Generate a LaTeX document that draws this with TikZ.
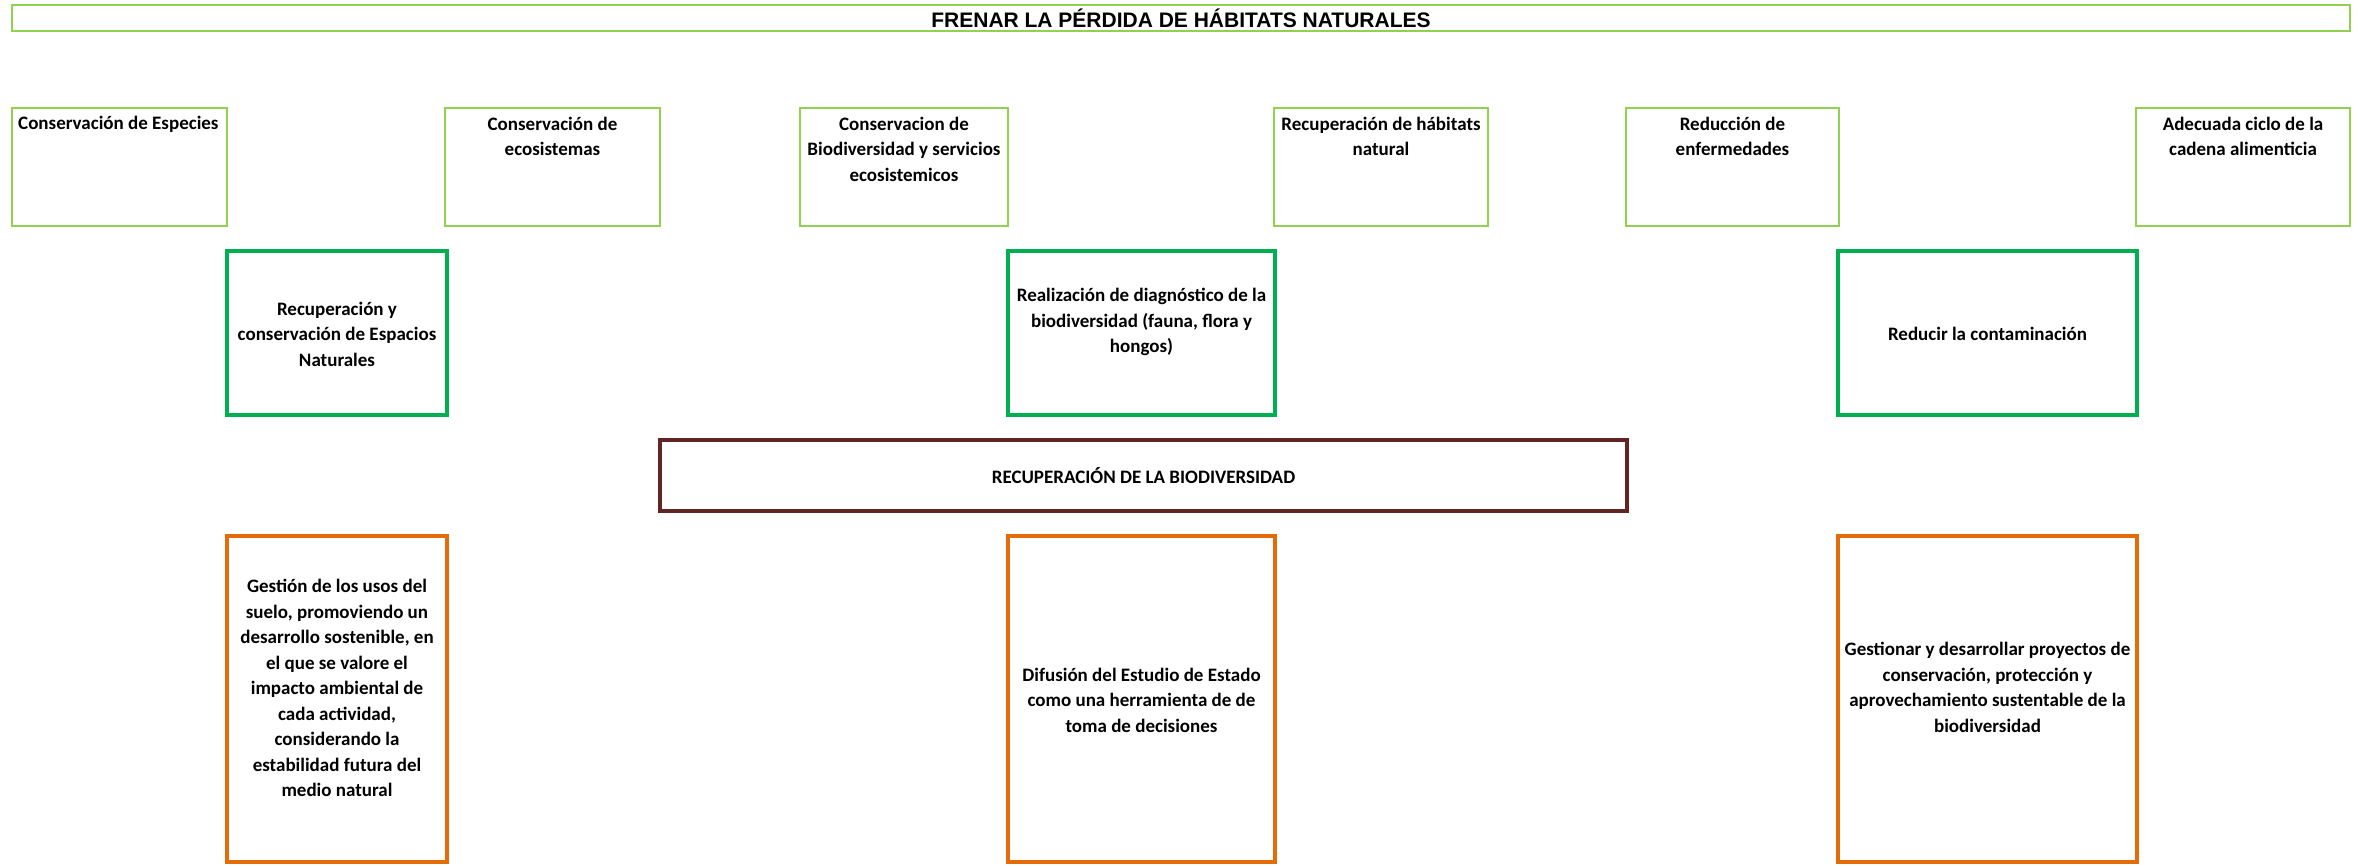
\documentclass[tikz,border=0pt]{standalone}
\usepackage{fontspec}
\setmainfont{Carlito}
\newfontfamily\titlefont{Liberation Sans}
\usetikzlibrary{fit}
\definecolor{lgreen}{HTML}{92D050}
\definecolor{dgreen}{HTML}{00B050}
\definecolor{brownred}{HTML}{632523}
\definecolor{orng}{HTML}{E36C09}
\tikzset{
  frame/.style={draw, inner sep=0pt, fill=none},
  topbox/.style={frame, draw=lgreen, line width=2.5pt},
  greenbox/.style={frame, draw=dgreen, line width=4pt},
  brownbox/.style={frame, draw=brownred, line width=4.5pt},
  orangebox/.style={frame, draw=orng, line width=4.5pt},
  txt/.style={inner sep=0pt, align=center, font=\fontsize{19}{25.5}\selectfont\bfseries},
  titletxt/.style={inner sep=0pt, font=\titlefont\fontsize{21}{25}\selectfont\bfseries}
}
\begin{document}
\begin{tikzpicture}[x=1pt, y=-1pt]
\useasboundingbox[fill=white] (0,0) rectangle (2360,865);
% title
\node[topbox, fit={(12,5) (2350,31)}] (title) {};
\node[titletxt] (titlet) at (title.center) {FRENAR LA PÉRDIDA DE HÁBITATS NATURALES};
% top row
\node[topbox, fit={(12,108) (227,226)}] (t1) {};
\node[topbox, fit={(445,108) (660,226)}] (t2) {};
\node[topbox, fit={(800,108) (1008,226)}] (t3) {};
\node[topbox, fit={(1274,108) (1488,226)}] (t4) {};
\node[topbox, fit={(1626,108) (1839,226)}] (t5) {};
\node[topbox, fit={(2136,108) (2350,226)}] (t6) {};
\node[txt, anchor=west, align=left] (t1t) at (18,124) {Conservación de Especies};
\node[txt] (t2t) at (552.5,136.5) {Conservación de\\ecosistemas};
\node[txt] (t3t) at (904,149) {Conservacion de\\Biodiversidad y servicios\\ecosistemicos};
\node[txt] (t4t) at (1381,136.5) {Recuperación de hábitats\\natural};
\node[txt] (t5t) at (1732.5,136.5) {Reducción de\\enfermedades};
\node[txt] (t6t) at (2243,136.5) {Adecuada ciclo de la\\cadena alimenticia};
% green row
\node[greenbox, fit={(227,251) (447,415)}] (g1) {};
\node[greenbox, fit={(1008,251) (1275,415)}] (g2) {};
\node[greenbox, fit={(1838,251) (2137,415)}] (g3) {};
\node[txt] (g1t) at (337,334) {Recuperación y\\conservación de Espacios\\Naturales};
\node[txt] (g2t) at (1141.5,322) {Realización de diagnóstico de la\\biodiversidad (fauna, flora y\\hongos)};
\node[txt] (g3t) at (1987.5,334) {Reducir la contaminación};
% central box
\node[brownbox, fit={(660,440) (1627,511)}] (b) {};
\node[txt] (bt) at (1143.5,476) {RECUPERACIÓN DE LA BIODIVERSIDAD};
% orange row
\node[orangebox, fit={(227,536) (447,862)}] (o1) {};
\node[orangebox, fit={(1008,536) (1275,862)}] (o2) {};
\node[orangebox, fit={(1838,536) (2137,862)}] (o3) {};
\node[txt] (o1t) at (337,688) {Gestión de los usos del\\suelo, promoviendo un\\desarrollo sostenible, en\\el que se valore el\\impacto ambiental de\\cada actividad,\\considerando la\\estabilidad futura del\\medio natural};
\node[txt] (o2t) at (1141.5,700) {Difusión del Estudio de Estado\\como una herramienta de de\\toma de decisiones};
\node[txt] (o3t) at (1987.5,687.5) {Gestionar y desarrollar proyectos de\\conservación, protección y\\aprovechamiento sustentable de la\\biodiversidad};
\end{tikzpicture}
\end{document}
